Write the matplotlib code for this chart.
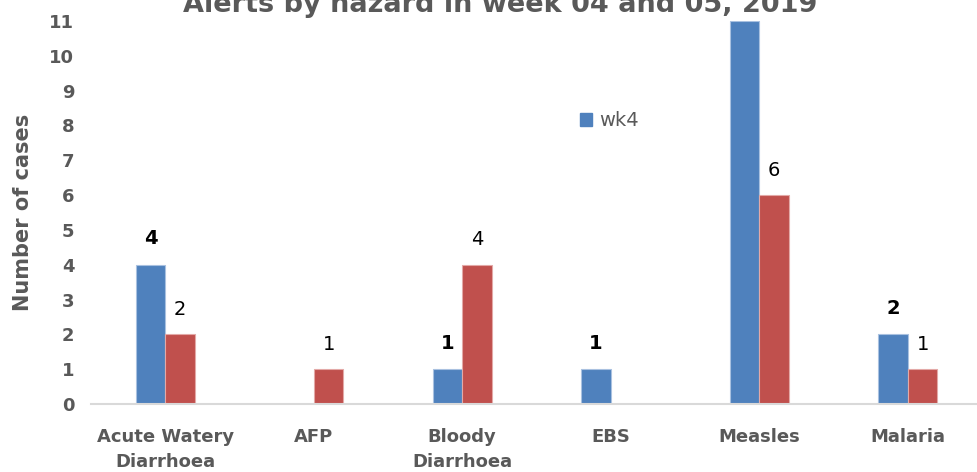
import numpy as np
import matplotlib
matplotlib.use("Agg")
import matplotlib.pyplot as plt
from matplotlib.patches import Patch

# data
hazards = ["Acute Watery\nDiarrhoea", "AFP", "Bloody\nDiarrhoea", "EBS", "Measles", "Malaria"]
wk4 = [4, 0, 1, 1, 11, 2]
wk5 = [2, 1, 4, 0, 6, 1]
title = "Alerts by hazard in week 04 and 05, 2019"

blue = "#4F81BD"
red = "#C0504D"
grey = "#595959"
ymax = 11

plt.rcParams["font.family"] = ["DejaVu Sans"]

fig = plt.figure(figsize=(9.78, 4.72), dpi=100)
ax = fig.add_axes([91 / 978, 68 / 472, 891 / 978, 383 / 472])

x = np.arange(len(hazards))
w = 0.2
ax.bar(x - w / 2, wk4, w, color=blue, edgecolor="#A9C1E0", linewidth=0.8)
ax.bar(x + w / 2, wk5, w, color=red, edgecolor="#E3A9A7", linewidth=0.8)

# value labels; zeros and labels above the plot area (cut off in the original) are left out
for i in range(len(x)):
    if 0 < wk4[i] < ymax:
        ax.annotate(str(wk4[i]), (x[i] - w / 2, wk4[i]), xytext=(0, 12), textcoords="offset points",
                    ha="center", va="bottom", fontsize=14, fontweight="bold", color="black")
    if 0 < wk5[i] < ymax:
        ax.annotate(str(wk5[i]), (x[i] + w / 2, wk5[i]), xytext=(0, 11), textcoords="offset points",
                    ha="center", va="bottom", fontsize=14, color="black")

ax.set_xlim(-0.5, len(hazards) - 0.5)
ax.set_ylim(0, ymax)
ax.set_yticks(range(0, ymax + 1))
ax.set_xticks(x)
ax.set_xticklabels(hazards, fontsize=13, fontweight="bold", color=grey, linespacing=1.5)
for t in ax.get_yticklabels():
    t.set_fontsize(13)
    t.set_fontweight("bold")
    t.set_color(grey)
ax.tick_params(length=0)
ax.tick_params(axis="y", pad=12)
ax.tick_params(axis="x", pad=17)

for s in ["top", "right", "left"]:
    ax.spines[s].set_visible(False)
ax.spines["bottom"].set_color("#D9D9D9")
ax.spines["bottom"].set_linewidth(1.5)

ax.set_ylabel("Number of cases", fontsize=15, fontweight="bold", color=grey)
ax.yaxis.set_label_coords(-58 / 891, 0.5)

fig.text(500 / 978, (472 - 12) / 472, title, ha="center", va="baseline", fontsize=19.5,
         fontweight="bold", color=grey)

leg = ax.legend(handles=[Patch(color=blue, label="wk4")], loc="center left",
                bbox_to_anchor=(580 / 978, (472 - 121) / 472), bbox_transform=fig.transFigure,
                frameon=False, fontsize=14, handlelength=0.6, handleheight=0.6, handletextpad=0.4,
                borderpad=0, borderaxespad=0)
for t in leg.get_texts():
    t.set_color(grey)

fig.savefig("out.png", dpi=100)
